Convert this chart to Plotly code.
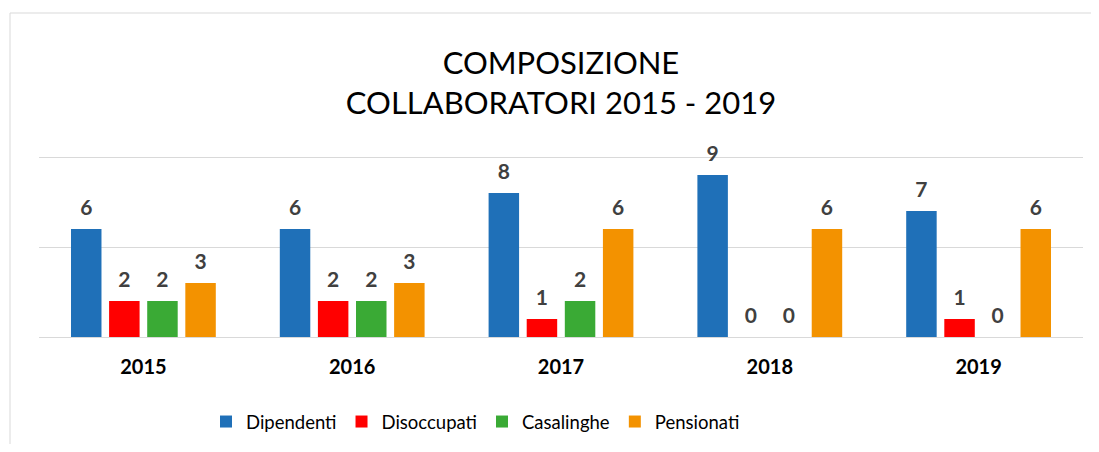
import plotly.graph_objects as go

years = ["2015", "2016", "2017", "2018", "2019"]
series_names = ["Dipendenti", "Disoccupati", "Casalinghe", "Pensionati"]
dipendenti = [6, 6, 8, 9, 7]
disoccupati = [2, 2, 1, 0, 1]
casalinghe = [2, 2, 2, 0, 0]
pensionati = [3, 3, 6, 6, 6]
colors = ["#1F70B8", "#FF0000", "#3AAA35", "#F39200"]

FONT = "Lato"
OFF = 8  # browser body margin
W, H = 1099 - 2 * OFF, 452 - 2 * OFF
YMAX = 10
UNIT = 18.0  # px per unit in the reference
# target screen geometry of the plot area (extra 2px on top so the top gridline is kept)
SX0, SX1, SY1 = 39, 1083, 337
SY0 = SY1 - UNIT * YMAX - 2
L = SX0 - OFF
R = (W + OFF) - SX1
T = SY0 - OFF
B = (H + OFF) - SY1
pw = W - L - R
ph = H - T - B


def px_x(p):
    return (p - SX0) / pw


def px_y(p):
    return (SY1 - p) / ph


BARGAP = 0.27
fig = go.Figure()
all_vals = [dipendenti, disoccupati, casalinghe, pensionati]
for i, (name, vals, col) in enumerate(zip(series_names, all_vals, colors)):
    fig.add_trace(go.Bar(
        x=years, y=vals, name=name, marker_color=col, marker_line_width=0,
        offsetgroup=str(i), cliponaxis=False,
    ))
for i, (name, vals) in enumerate(zip(series_names, all_vals)):
    fig.add_trace(go.Scatter(
        x=years, y=vals, mode="markers+text", text=vals, textposition="top center",
        textfont=dict(family=FONT, size=21, color="#404040", weight="bold"),
        offsetgroup=str(i), showlegend=False, hoverinfo="skip", cliponaxis=False,
        marker=dict(size=13, opacity=0),
    ))

fig.update_layout(
    width=W, height=H,
    margin=dict(l=L, r=R, t=T, b=B, pad=0, autoexpand=False),
    paper_bgcolor="white", plot_bgcolor="white",
    barmode="group", bargap=BARGAP, bargroupgap=0.2,
    scattermode="group", scattergap=BARGAP,
    title=dict(text="COMPOSIZIONE<br>COLLABORATORI 2015 - 2019",
               font=dict(family=FONT, size=31, color="#000000"),
               x=px_x(561), xref="paper", xanchor="center",
               y=1 - (74 - OFF) / H, yref="container", yanchor="middle"),
    yaxis=dict(range=[0, YMAX + 2 / UNIT], dtick=5, showticklabels=False, showgrid=True,
               gridcolor="#D9D9D9", gridwidth=1, zeroline=True, automargin=False,
               zerolinecolor="#D9D9D9", zerolinewidth=1, fixedrange=True),
    xaxis=dict(showline=False, ticks="", automargin=False,
               tickfont=dict(family=FONT, size=20, color="#000000", weight="bold"),
               ticklabelstandoff=16),
    legend=dict(orientation="h", x=px_x(206), xanchor="left", y=px_y(422), yanchor="middle",
                font=dict(family=FONT, size=18.5, color="#000000"),
                itemwidth=30, traceorder="normal"),
    showlegend=True,
)
fig.add_shape(type="rect", xref="paper", yref="paper",
              x0=px_x(10), x1=px_x(1110), y0=px_y(470), y1=px_y(13),
              line=dict(color="#D9D9D9", width=1), fillcolor="rgba(0,0,0,0)", layer="below")

fig.write_html("out.html")
